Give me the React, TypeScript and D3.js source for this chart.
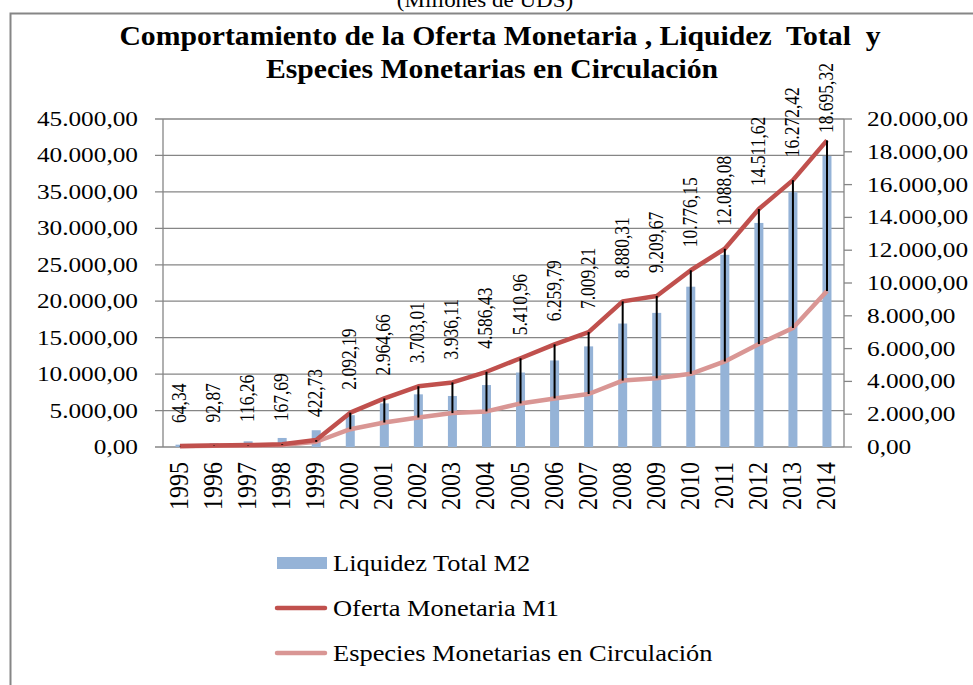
import React from "react";
import * as d3 from "d3";

const years = ["1995", "1996", "1997", "1998", "1999", "2000", "2001", "2002", "2003", "2004",
  "2005", "2006", "2007", "2008", "2009", "2010", "2011", "2012", "2013", "2014"];

// Liquidez Total M2 (eje izquierdo)
const liquidezM2 = [320, 550, 780, 1240, 2300, 4370, 5980, 7225, 7000, 8500,
  10215, 11872, 13804, 16938, 18400, 21993, 26366, 30740, 34967, 39935];

// Oferta Monetaria M1 (eje derecho)
const ofertaM1 = [64.34, 92.87, 116.26, 167.69, 422.73, 2092.19, 2964.66, 3703.01, 3936.11, 4586.43,
  5410.96, 6259.79, 7009.21, 8880.31, 9209.67, 10776.15, 12088.08, 14511.62, 16272.42, 18695.32];

// Especies Monetarias en Circulación (eje derecho)
const especies = [45, 70, 90, 125, 320, 1086, 1491, 1798, 2067, 2170,
  2657, 2963, 3233, 4049, 4190, 4460, 5215, 6276, 7258, 9509];

const leftTicks = [0, 5000, 10000, 15000, 20000, 25000, 30000, 35000, 40000, 45000];
const rightTicks = [0, 2000, 4000, 6000, 8000, 10000, 12000, 14000, 16000, 18000, 20000];

const legendItems = ["Liquidez Total M2", "Oferta Monetaria M1", "Especies Monetarias en Circulación"];

const fmt = (v: number) => {
  const s = d3.format(",.2f")(v);
  return s.replace(/,/g, "#").replace(".", ",").replace(/#/g, ".");
};

const W = 973, H = 685;
const plot = { left: 163, right: 844, top: 119, bottom: 447 };
const SX = 1.15;
const serif = "'Liberation Serif', 'Times New Roman', serif";
const grid = "#868686";

export default function App() {
  const x = d3.scaleBand<string>().domain(years).range([plot.left, plot.right]);
  const yL = d3.scaleLinear().domain([0, 45000]).range([plot.bottom, plot.top]);
  const yR = d3.scaleLinear().domain([0, 20000]).range([plot.bottom, plot.top]);
  const cx = (d: string) => (x(d) as number) + x.bandwidth() / 2;

  const line = d3.line<number>()
    .x((_, i) => cx(years[i]))
    .y(v => yR(v));

  return (
    <svg width={W} height={H} style={{ position: "absolute", left: 0, top: 0, background: "#fff" }}
      fontFamily={serif}>
      <rect x={0} y={0} width={W} height={H} fill="#fff" />
      <text transform={`translate(485,7) scale(${SX},1)`} textAnchor="middle" fontSize={20}>(Millones de UDS)</text>
      <rect x={10.5} y={13.5} width={1200} height={1000} fill="none" stroke={grid} strokeWidth={2} />

      <g fontWeight="bold" fontSize={27} textAnchor="middle">
        <text transform={`translate(500,45) scale(1.1,1)`}>{"Comportamiento de la Oferta Monetaria , Liquidez\u00a0 Total\u00a0 y"}</text>
        <text transform={`translate(492,78) scale(1.1,1)`}>{"Especies Monetarias en Circulación"}</text>
      </g>

      {/* gridlines and axes */}
      {leftTicks.map(t => (
        <g key={"l" + t}>
          <line x1={plot.left - 8} x2={plot.right} y1={yL(t)} y2={yL(t)} stroke={grid} strokeWidth={1.3} />
          <text transform={`translate(138,${yL(t) + 7}) scale(${SX},1)`} textAnchor="end" fontSize={22}>{fmt(t)}</text>
        </g>
      ))}
      {rightTicks.map(t => (
        <g key={"r" + t}>
          <line x1={plot.right} x2={plot.right + 8} y1={yR(t)} y2={yR(t)} stroke={grid} strokeWidth={1.3} />
          <text transform={`translate(867,${yR(t) + 7}) scale(${SX},1)`} fontSize={22}>{fmt(t)}</text>
        </g>
      ))}
      <line x1={plot.left} x2={plot.left} y1={plot.top} y2={plot.bottom} stroke={grid} strokeWidth={1.3} />
      <line x1={plot.right} x2={plot.right} y1={plot.top} y2={plot.bottom} stroke={grid} strokeWidth={1.3} />

      {/* bars */}
      {years.map((d, i) => (
        <rect key={"b" + d} x={cx(d) - 4.5} width={9} y={yL(liquidezM2[i])}
          height={plot.bottom - yL(liquidezM2[i])} fill="#95B3D7" />
      ))}

      <path d={line(especies) || ""} fill="none" stroke="#D99694" strokeWidth={4.5} strokeLinejoin="round" />
      <path d={line(ofertaM1) || ""} fill="none" stroke="#C0504D" strokeWidth={4.5} strokeLinejoin="round" />

      {/* high-low lines */}
      {years.map((d, i) => (
        <line key={"h" + d} x1={cx(d)} x2={cx(d)} y1={yR(ofertaM1[i])} y2={yR(especies[i])}
          stroke="#000" strokeWidth={2} />
      ))}

      {/* data labels */}
      {years.map((d, i) => (
        <text key={"dl" + d} transform={`translate(${cx(d) + 6},${Math.max(yR(ofertaM1[i]) - 23, 133)}) scale(${SX},1) rotate(-90)`}
          fontSize={17.5}>{fmt(ofertaM1[i])}</text>
      ))}

      {/* category labels */}
      {years.map(d => (
        <text key={"x" + d} transform={`translate(${cx(d) + 8},462) scale(${SX},1) rotate(-90)`}
          textAnchor="end" fontSize={24}>{d}</text>
      ))}

      {/* legend */}
      <rect x={277} y={557} width={50} height={12} fill="#95B3D7" />
      <line x1={277} x2={325} y1={608} y2={608} stroke="#C0504D" strokeWidth={4.5} strokeLinecap="round" />
      <line x1={277} x2={325} y1={653} y2={653} stroke="#D99694" strokeWidth={4.5} strokeLinecap="round" />
      {legendItems.map((t, i) => (
        <text key={t} transform={`translate(333,${571 + i * 45}) scale(${SX},1)`} fontSize={23}>{t}</text>
      ))}
    </svg>
  );
}
